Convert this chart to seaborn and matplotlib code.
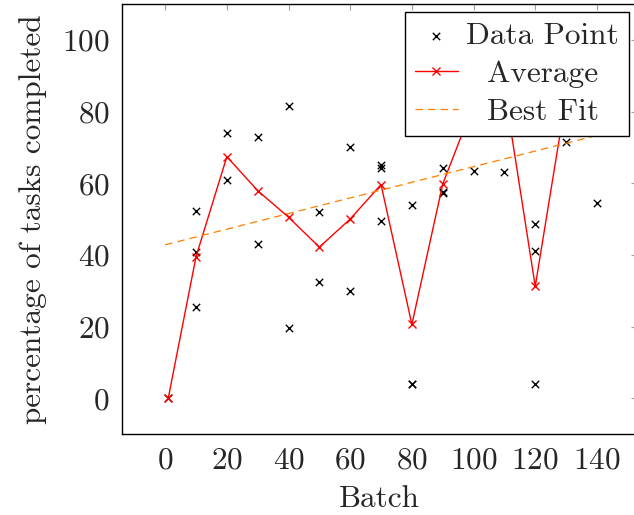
import numpy as np
import pandas as pd
import matplotlib.pyplot as plt
import seaborn as sns

# batch number of every measurement (some sit under the legend box)
batches = [1,
           10, 10, 10,
           20, 20,
           30, 30,
           40, 40,
           50, 50,
           60, 60,
           70, 70, 70,
           80, 80, 80,
           90, 90, 90,
           100, 100,
           110, 110, 110,
           120, 120, 120,
           130, 130,
           140, 140]
# percentage of tasks completed for each measurement
percentages = [0.0,
               52.3, 40.7, 25.4,
               73.9, 60.9,
               72.8, 43.0,
               81.5, 19.5,
               51.9, 32.4,
               70.0, 30.0,
               65.0, 64.3, 49.5,
               53.8, 4.0, 3.9,
               64.3, 57.6, 57.3,
               63.5, 100.5,
               63.2, 97.0, 99.0,
               48.5, 41.2, 3.9,
               71.6, 96.4,
               54.4, 98.0]

# best fit line
fit_intercept = 42.8
fit_slope = 0.218
fit_range = [0, 140]

xticks = [0, 20, 40, 60, 80, 100, 120, 140]
yticks = [0, 20, 40, 60, 80, 100]

sns.set_theme(style='white')
plt.rcParams['font.family'] = ['cmr10', 'DejaVu Serif']
plt.rcParams['mathtext.fontset'] = 'cm'
plt.rcParams['axes.formatter.use_mathtext'] = True
plt.rcParams['axes.unicode_minus'] = False

df = pd.DataFrame({'Batch': batches, 'percentage': percentages})
avg = df.groupby('Batch', as_index=False)['percentage'].mean()
fit = pd.DataFrame({'Batch': fit_range})
fit['percentage'] = fit_intercept + fit_slope * fit['Batch']

fig = plt.figure(figsize=(6.34, 5.15), dpi=100)
ax = fig.add_axes([122 / 634, 81 / 515, 515 / 634, 430 / 515])

sns.scatterplot(data=df, x='Batch', y='percentage', marker='x', color='black',
                s=28, linewidths=1.0, label='Data Point', ax=ax, zorder=3)
sns.lineplot(data=avg, x='Batch', y='percentage', color='red', lw=1.0,
             marker='x', markersize=6, markeredgecolor='red', markeredgewidth=1.0,
             label='Average', ax=ax, zorder=4)
sns.lineplot(data=fit, x='Batch', y='percentage', color=(1.0, 0.5, 0.0), lw=0.9,
             linestyle=(0, (6, 4)), label='Best Fit', ax=ax, zorder=5)

ax.set_xlim(-14, 153)
ax.set_ylim(-10, 110)
ax.set_xticks(xticks)
ax.set_yticks(yticks)
ax.set_xlabel('Batch', fontsize=22.5, labelpad=8)
ax.set_ylabel('percentage of tasks completed', fontsize=22.5, labelpad=11)
ax.tick_params(direction='in', length=4.5, width=0.8, color='#a0a0a0',
               top=True, right=True, labelsize=22.5, pad=9)
for s in ax.spines.values():
    s.set_color('black')
    s.set_linewidth(1.0)

leg = ax.legend(loc='upper right', fontsize=22.5, frameon=True, fancybox=False,
                framealpha=1, edgecolor='black', borderaxespad=0.25,
                borderpad=0.32, handlelength=1.4, handletextpad=0.26,
                labelspacing=0.32, scatterpoints=1, numpoints=1)
leg.get_frame().set_linewidth(1.0)
leg.set_zorder(10)

# centre the legend labels like pgfplots does
fig.canvas.draw()
widths = [t.get_window_extent().width for t in leg.get_texts()]
for t, w in zip(leg.get_texts(), widths):
    t.set_x((max(widths) - w) / 2)

fig.savefig('out.png', dpi=100)
